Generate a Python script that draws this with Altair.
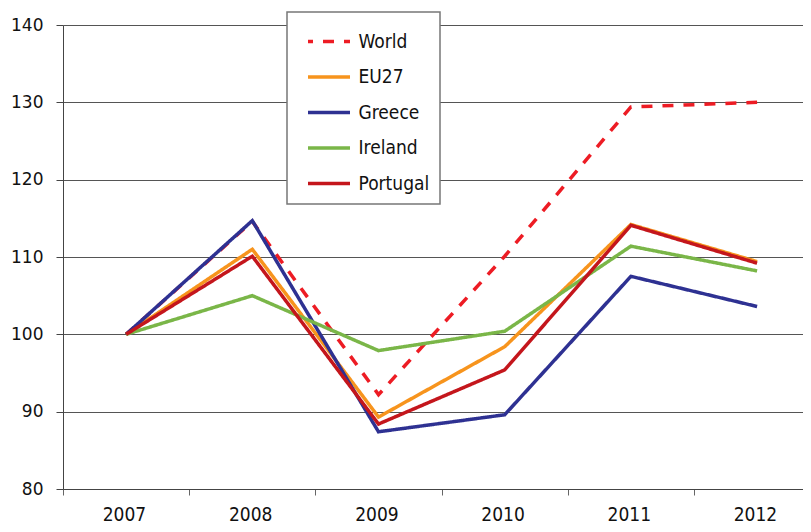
import altair as alt
import pandas as pd

years = [2007, 2008, 2009, 2010, 2011, 2012]
series_names = ["World", "EU27", "Greece", "Ireland", "Portugal"]
world = [100, 114.6, 92.2, 110.1, 129.4, 130.0]
eu27 = [100, 111.0, 89.3, 98.4, 114.2, 109.4]
greece = [100, 114.7, 87.4, 89.6, 107.5, 103.6]
ireland = [100, 105.0, 97.9, 100.4, 111.4, 108.2]
portugal = [100, 110.1, 88.4, 95.4, 114.1, 109.2]
colors = ["#ED1C24", "#F7941D", "#2E3192", "#7AB648", "#C4161C"]
dashes = [[11, 10], [1, 0], [1, 0], [1, 0], [1, 0]]

y_ticks = [80, 90, 100, 110, 120, 130, 140]
x_tick_bounds = [2006.5, 2007.5, 2008.5, 2009.5, 2010.5, 2011.5]

rows = []
for name, vals in zip(series_names, [world, eu27, greece, ireland, portugal]):
    for yr, v in zip(years, vals):
        rows.append({"series": name, "year": yr, "value": v})
df = pd.DataFrame(rows)

step = 126.2
plot_w = 740
x_max = 2006.5 + plot_w / step

chart = alt.Chart(df).mark_line(strokeWidth=3.5, strokeJoin="miter").encode(
    x=alt.X(
        "year:Q",
        scale=alt.Scale(domain=[2006.5, x_max], nice=False, zero=False),
        axis=alt.Axis(
            values=x_tick_bounds,
            labelExpr="toString(datum.value + 0.5)",
            labelOffset=61,
            grid=False,
            title=None,
            tickSize=6,
            labelPadding=25,
            labelBaseline="alphabetic",
            labelFont="DejaVu Sans Condensed",
            labelFontSize=19,
            labelColor="#111111",
            labelFlush=False,
            labelOverlap=False,
            domainColor="#444444",
            tickColor="#666666",
        ),
    ),
    y=alt.Y(
        "value:Q",
        scale=alt.Scale(domain=[80, 140], nice=False, zero=False),
        axis=alt.Axis(
            values=y_ticks,
            title=None,
            grid=True,
            gridColor="#555555",
            gridWidth=1,
            tickSize=7,
            labelPadding=13,
            labelFont="DejaVu Sans",
            labelFontSize=17,
            labelColor="#111111",
            domainColor="#444444",
            tickColor="#444444",
        ),
    ),
    color=alt.Color(
        "series:N",
        scale=alt.Scale(domain=series_names, range=colors),
        sort=series_names,
        title=None,
    ),
    strokeDash=alt.StrokeDash(
        "series:N",
        scale=alt.Scale(domain=series_names, range=dashes),
        sort=series_names,
        title=None,
    ),
).properties(
    width=plot_w,
    height=464,
    autosize=alt.AutoSizeParams(type="none"),
    padding={"left": 55, "top": 17, "right": 0, "bottom": 35},
).configure_view(
    strokeWidth=0
).configure_legend(
    orient="none",
    legendX=224,
    legendY=-13,
    padding=10,
    fillColor="white",
    strokeColor="#777777",
    strokeWidth=1.5,
    symbolType="M-1.2,0H1.2",
    symbolSize=1225,
    symbolStrokeWidth=3.5,
    symbolOffset=12.5,
    symbolDashOffset=6,
    labelOffset=10,
    labelFont="DejaVu Sans Condensed",
    labelFontSize=19,
    labelColor="#111111",
    rowPadding=5.5,
)

chart.save("out.html", embed_options={"renderer": "svg", "actions": False})
